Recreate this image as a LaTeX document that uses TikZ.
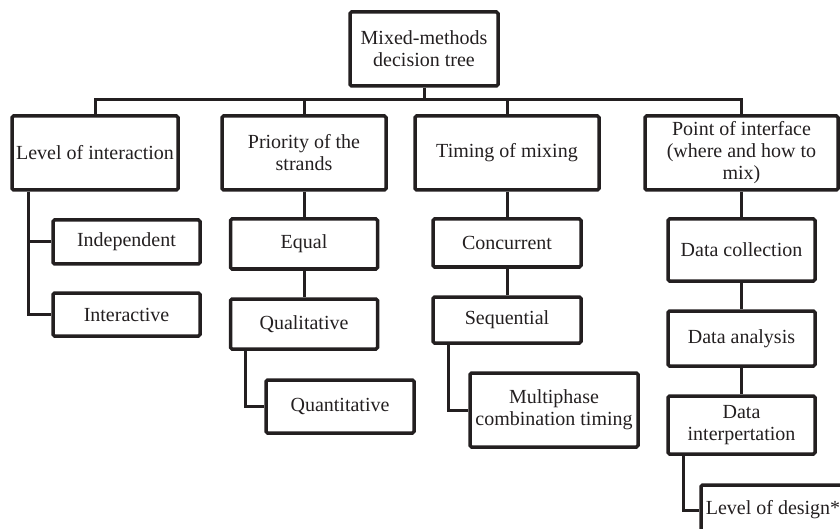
\documentclass[tikz,border=0pt]{standalone}
\usepackage{fontspec}
\setmainfont{Liberation Serif}
\usepackage{tikz}
\usetikzlibrary{positioning}
\definecolor{boxline}{HTML}{231F20}

\begin{document}
\begin{tikzpicture}[x=1pt,y=-1pt,
    box/.style={draw=boxline, line width=3.5pt, rounded corners=1.5pt,
        align=center, inner sep=0pt, text=boxline,
        font=\fontsize{20}{22}\selectfont},
    top box/.style={box, minimum height=74pt},
    sub box/.style={box, minimum width=147pt},
    link/.style={draw=boxline, line width=3pt}]
    \useasboundingbox (0,0) rectangle (840,529);
    \clip (0,0) rectangle (840,529);

    \node [top box, minimum width=148pt] (root) at (424,49) {Mixed-methods\\decision tree};
    \coordinate (bus) at (424,100);

    \node [top box, minimum width=166pt] (inter) at (95,153) {Level of interaction};
    \node [top box, minimum width=164pt] (prio) at (304,153) {Priority of the\\strands};
    \node [top box, minimum width=184pt] (timing) at (507,153) {Timing of mixing};
    \node [top box, minimum width=193pt] (point) at (741.5,153) {Point of interface\\(where and how to\\mix)};

    \node [sub box, minimum height=44pt] (indep) at (126.5,242) {Independent};
    \node [sub box, minimum height=43pt] (interac) at (126.5,314.5) {Interactive};

    \node [sub box, minimum height=50pt] (equal) at (304,244) {Equal};
    \node [sub box, minimum height=50pt] (qual) at (304,324) {Qualitative};
    \node [box, minimum width=148pt, minimum height=53pt] (quant) at (340,406.5) {Quantitative};

    \node [box, minimum width=148pt, minimum height=48pt] (concur) at (507,243) {Concurrent};
    \node [box, minimum width=148pt, minimum height=46pt] (seq) at (507,320) {Sequential};
    \node [box, minimum width=168pt, minimum height=74pt] (multi) at (554,410) {Multiphase\\combination timing};

    \node [sub box, minimum height=62pt] (collect) at (741.5,250) {Data collection};
    \node [sub box, minimum height=55pt] (analysis) at (741.5,338.5) {Data analysis};
    \node [sub box, minimum height=58pt] (interp) at (741.5,425) {Data\\interpertation};
    \node [box, minimum width=144pt, minimum height=50pt] (design) at (773,510) {Level of design*};

    \draw [link] (root.south) -- (bus);
    \draw [link] (inter.north) |- (bus) -| (point.north);
    \draw [link] (prio.north) -- (prio.north |- bus);
    \draw [link] (timing.north) -- (timing.north |- bus);

    \draw [link] ([xshift=-67pt]inter.south) |- (indep.west);
    \draw [link] ([xshift=-67pt]inter.south) |- (interac.west);

    \draw [link] (prio) -- (equal);
    \draw [link] (equal) -- (qual);
    \draw [link] ([xshift=-59pt]qual.south) |- (quant.west);

    \draw [link] (timing) -- (concur);
    \draw [link] (concur) -- (seq);
    \draw [link] ([xshift=-59pt]seq.south) |- (multi.west);

    \draw [link] (point) -- (collect);
    \draw [link] (collect) -- (analysis);
    \draw [link] (analysis) -- (interp);
    \draw [link] ([xshift=-58.5pt]interp.south) |- (design.west);
\end{tikzpicture}
\end{document}
